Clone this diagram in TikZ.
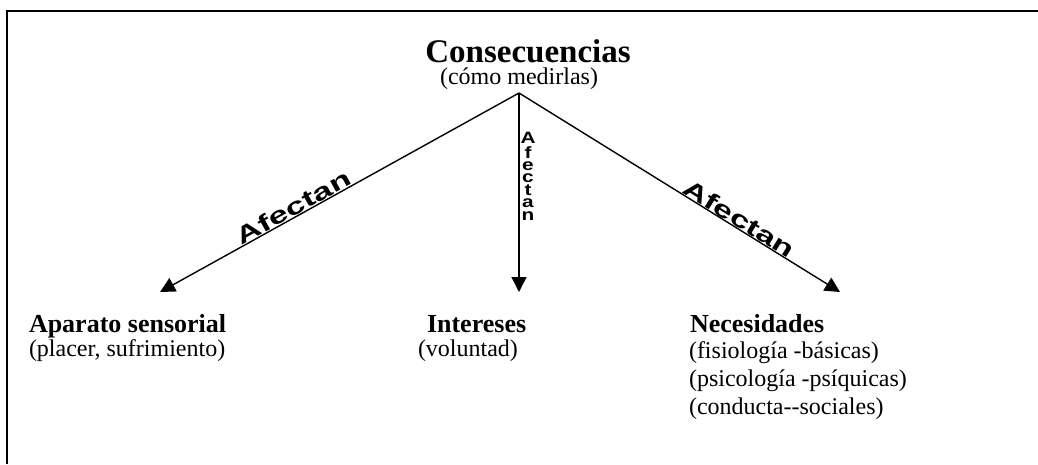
\documentclass[tikz,border=0pt]{standalone}
\usepackage{fontspec}
\setmainfont{Liberation Serif}
\setsansfont{Liberation Sans}
\usetikzlibrary{arrows.meta,calc}
\begin{document}
\begin{tikzpicture}[x=1pt,y=-1pt,
  every node/.style={inner sep=0pt, outer sep=0pt},
  bigtitle/.style={font=\bfseries\fontsize{33}{38}\selectfont, anchor=base},
  ttl/.style={font=\bfseries\fontsize{26}{30}\selectfont, anchor=base west},
  sub/.style={font=\fontsize{24}{28}\selectfont, anchor=base west},
  conn/.style={line width=1.4pt, -{Triangle[length=15pt,width=15pt]}},
  framestyle/.style={line width=2.4pt},
  lab/.style={inner sep=1pt, anchor=south}
]
\useasboundingbox (0,0) rectangle (1038,464);
\draw[framestyle] (7,464) -- (7,11) -- (1038,11);

% top
\node[bigtitle] (cons) at (528,62) {Consecuencias};
\node[sub, anchor=base] (medir) at (519,84) {(cómo medirlas)};
\coordinate (apex) at (519,93);

% arrow ends
\coordinate (tipL) at (160,292);
\coordinate (tipM) at (519,292);
\coordinate (tipR) at (840,292);

\draw[conn] (apex) -- (tipL);
\draw[conn] (apex) -- (tipM);
\draw[conn] (apex) -- (tipR);

% labels
\node[lab, rotate=29] (labL) at ($(apex)!0.615!(tipL)$)
  {\resizebox{128pt}{17pt}{\sffamily\bfseries Afectan}};
\node[lab, rotate=-31.8] (labR) at ($(apex)!0.67!(tipR)$)
  {\resizebox{126pt}{17pt}{\sffamily\bfseries Afectan}};
\node[anchor=north] (labM) at (528,132)
  {\resizebox{15pt}{88pt}{\sffamily\bfseries\fontsize{16}{16}\selectfont\shortstack{A\\f\\e\\c\\t\\a\\n}}};

% bottom blocks
\node[ttl] (apar) at (29,332) {Aparato sensorial};
\node[sub] (placer) at (29,356) {(placer, sufrimiento)};

\node[ttl] (inter) at (427,332) {Intereses};
\node[sub] (vol) at (418,356) {(voluntad)};

\node[ttl] (nec) at (690,332) {Necesidades};
\node[sub] (nec1) at (689,358) {(fisiología -básicas)};
\node[sub] (nec2) at (689,386) {(psicología -psíquicas)};
\node[sub] (nec3) at (689,414) {(conducta\mbox{-}\mbox{-}sociales)};
\end{tikzpicture}
\end{document}
